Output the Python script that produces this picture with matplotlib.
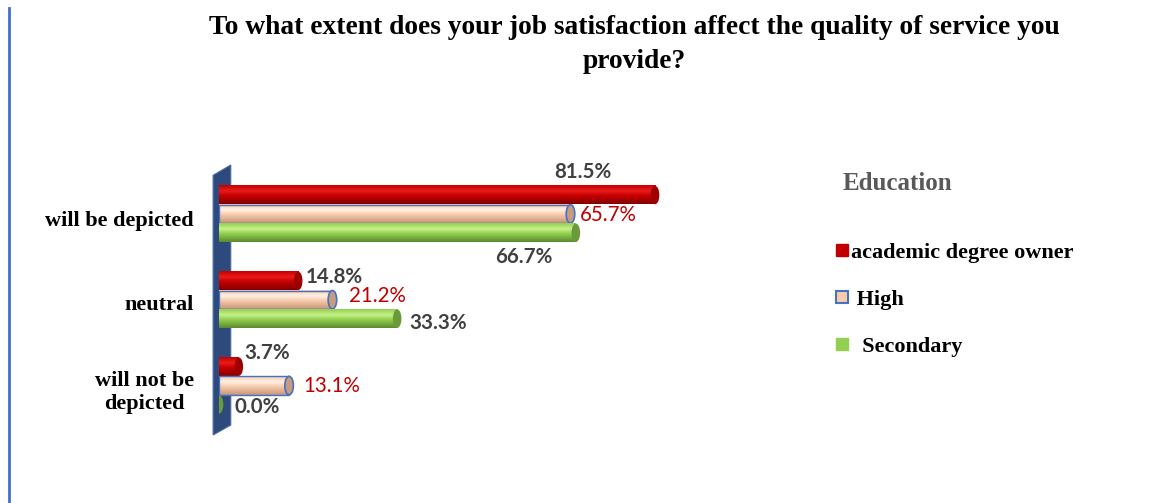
import numpy as np
import matplotlib.pyplot as plt
from matplotlib.patches import Ellipse, Rectangle, Polygon
from matplotlib.lines import Line2D
from matplotlib.colors import to_rgb

categories = ["will be depicted", "neutral", "will not be\ndepicted"]
series = ["academic degree owner", " High", "  Secondary"]
academic = [81.5, 14.8, 3.7]
high = [65.7, 21.2, 13.1]
secondary = [66.7, 33.3, 0.0]
values = [academic, high, secondary]

# light / mid / dark shades for the cylinder look
shades = [
    ("#E81C1C", "#C80000", "#820000"),
    ("#FFF0E4", "#F8CBAD", "#C9967A"),
    ("#C8F08A", "#92D050", "#5E8A2E"),
]
cap_colors = ["#9E0000", "#C79B80", "#6B9A3A"]
label_colors = ["#404040", "#C00000", "#404040"]
label_weights = ["bold", "normal", "bold"]
# label offsets from bar end, pixels (dx, dy down)
label_offsets = [
    [(-72, -23), (36, -4), (28, -14)],
    [(38, 1), (45, -4), (43, 0)],
    [(-52, 24), (41, 4), (38, 3)],
]

W, H = 1156, 503
fig = plt.figure(figsize=(W / 100, H / 100), dpi=100)
ax = fig.add_axes([219 / W, (H - 435) / H, 535 / W, 270 / H])
ax.set_xlim(0, 100)
ax.set_ylim(2.576, -0.57)
ax.axis("off")

bar_h = 0.215
offsets = [-0.22, 0.0, 0.22]
cap_w = 1.6


def shade_column(light, mid, dark, n=40):
    l, m, d = np.array(to_rgb(light)), np.array(to_rgb(mid)), np.array(to_rgb(dark))
    col = np.zeros((n, 3))
    for i, ti in enumerate(np.linspace(0, 1, n)):
        if ti < 0.3:
            a = ti / 0.3
            col[i] = m * (1 - a) + l * a
        elif ti < 0.55:
            a = (ti - 0.3) / 0.25
            col[i] = l * (1 - a) + m * a
        else:
            a = (ti - 0.55) / 0.45
            col[i] = m * (1 - a) + d * a
    return col.reshape(n, 1, 3)


# back wall on the left
wall = Polygon([(-1.1, -0.45), (2.2, -0.57), (2.2, 2.46), (-1.1, 2.576)],
               closed=True, facecolor="#2E4A7D", edgecolor="#4A6AA5", lw=0.8,
               zorder=1, clip_on=False)
ax.add_patch(wall)

for s in range(3):
    img = shade_column(*shades[s])
    for c in range(3):
        v = values[s][c]
        y = c + offsets[s]
        if v > 0:
            ax.imshow(img, extent=[0, v, y + bar_h / 2, y - bar_h / 2],
                      aspect="auto", zorder=3 + s, interpolation="bilinear")
        if s == 1:
            ax.add_patch(Rectangle((0, y - bar_h / 2), v, bar_h, fill=False,
                                   edgecolor="#4472C4", lw=1.0, zorder=3 + s))
            ax.add_patch(Ellipse((v, y), cap_w, bar_h, facecolor=cap_colors[s],
                                 edgecolor="#4472C4", lw=1.2, zorder=3.5 + s))
        else:
            ax.add_patch(Ellipse((v, y), cap_w, bar_h, facecolor=cap_colors[s],
                                 edgecolor="none", zorder=3.5 + s))
        dx, dy = label_offsets[s][c]
        ax.annotate(f"{v:.1f}%", (v, y), xytext=(dx, -dy), textcoords="offset pixels",
                    ha="center", va="center", fontsize=14.8, family="Lato",
                    color=label_colors[s], fontweight=label_weights[s], zorder=10,
                    annotation_clip=False)

label_y = [221, 305, 392]
for c, name in enumerate(categories):
    fig.text(194 / W, 1 - label_y[c] / H, name, ha="right", va="center",
             multialignment="center", fontsize=16, family="Liberation Serif",
             fontweight="bold", linespacing=1.2)

fig.text(634 / W, 1 - 28 / H,
         "To what extent does your job satisfaction affect the quality of service you",
         ha="center", va="center", fontsize=19.8, family="Liberation Serif", fontweight="bold")
fig.text(634 / W, 1 - 61 / H, "provide?", ha="center", va="center", fontsize=19.8,
         family="Liberation Serif", fontweight="bold")

fig.text(843 / W, 1 - 184 / H, "Education", ha="left", va="center", fontsize=18,
         family="Liberation Serif", fontweight="bold", color="#595959")

handles = [
    Line2D([], [], marker="s", ls="none", markersize=9, markerfacecolor="#C00000",
           markeredgecolor="#C00000"),
    Line2D([], [], marker="s", ls="none", markersize=9, markerfacecolor="#F8CBAD",
           markeredgecolor="#4472C4", markeredgewidth=1.5),
    Line2D([], [], marker="s", ls="none", markersize=9, markerfacecolor="#92D050",
           markeredgecolor="#92D050"),
]
fig.legend(handles, series, loc="upper left", bbox_to_anchor=(815 / W, 1 - 222 / H),
           frameon=False, handlelength=0.6, handletextpad=0.1, labelspacing=1.2,
           prop={"family": "Liberation Serif", "weight": "bold", "size": 16})

# thin border line at the left edge
fig.add_artist(Line2D([9 / W, 9 / W], [0, 1 - 8 / H], color="#4472C4", lw=2))

fig.savefig("out.png", dpi=100)
